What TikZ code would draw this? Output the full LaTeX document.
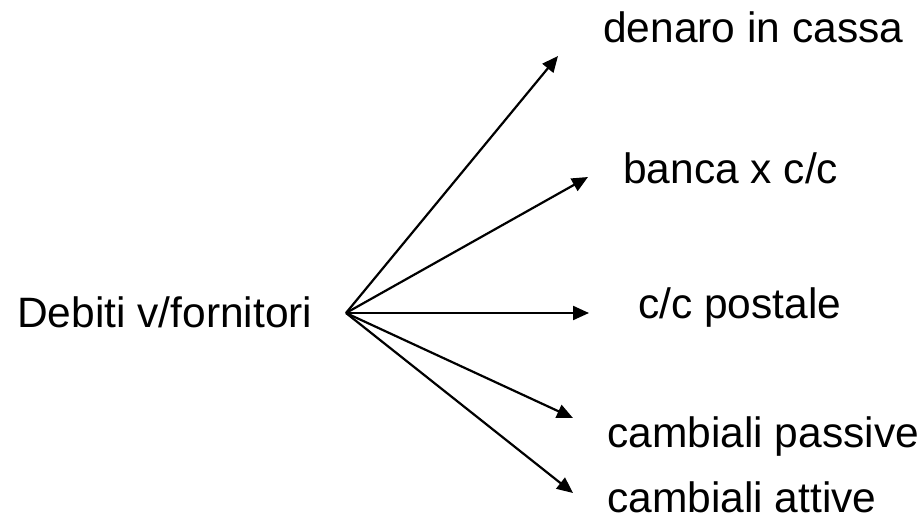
\documentclass[tikz,border=0pt]{standalone}
\usepackage{fontspec}
\setmainfont{Liberation Sans}
\usetikzlibrary{arrows.meta}
\begin{document}
\begin{tikzpicture}[x=1pt,y=-1pt,
  lbl/.style={anchor=base west,inner sep=0pt,font=\fontsize{42.5}{50}\selectfont},
  arr/.style={line width=2.2pt,-{Triangle[length=16pt,width=14pt]}}]
\useasboundingbox (0,0) rectangle (924,522);
\node[lbl] (deb) at (17,327) {Debiti v/fornitori};
\node[lbl] (den) at (603,42) {denaro in cassa};
\node[lbl] (ban) at (623,183) {banca x c/c};
\node[lbl] (pos) at (638,318) {c/c postale};
\node[lbl] (pas) at (607,447) {cambiali passive};
\node[lbl] (att) at (607,512) {cambiali attive};
\coordinate (o) at (346,313);
\coordinate (t1) at (558,56);
\coordinate (t2) at (588,177);
\coordinate (t3) at (589,313);
\coordinate (t4) at (573,418);
\coordinate (t5) at (573,493);
\draw[arr] (o) -- (t1);
\draw[arr] (o) -- (t2);
\draw[arr] (o) -- (t3);
\draw[arr] (o) -- (t4);
\draw[arr] (o) -- (t5);
\end{tikzpicture}
\end{document}
